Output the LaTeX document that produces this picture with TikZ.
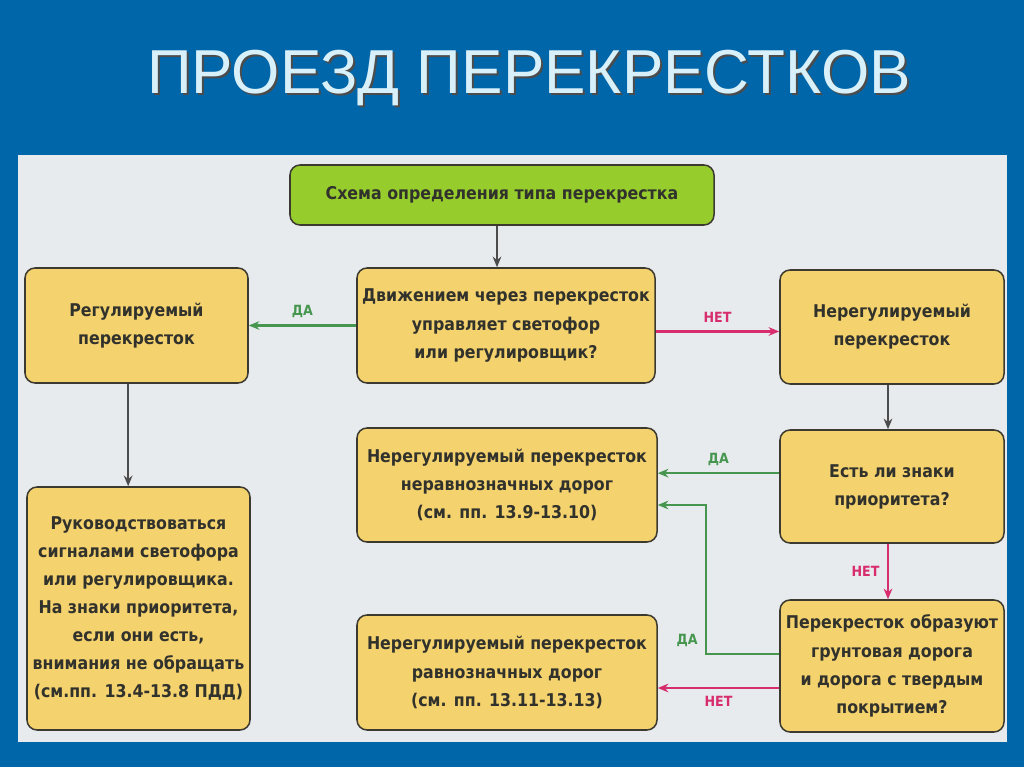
\documentclass[tikz,border=0pt]{standalone}
\usepackage{fontspec}
\setmainfont{DejaVu Sans Condensed}
\newfontfamily\titlefont{Liberation Sans}
\usetikzlibrary{arrows.meta,positioning}

\definecolor{slideblue}{RGB}{0,102,170}
\definecolor{panelgray}{RGB}{232,235,237}
\definecolor{boxfill}{RGB}{244,210,110}
\definecolor{startfill}{RGB}{150,205,45}
\definecolor{boxline}{RGB}{60,58,48}
\definecolor{boxtext}{RGB}{50,50,45}
\definecolor{yesgreen}{RGB}{70,150,80}
\definecolor{nopink}{RGB}{215,45,110}
\definecolor{titletext}{RGB}{215,240,250}

\begin{document}
\begin{tikzpicture}[
  x=0.03cm, y=-0.03cm,
  box/.style={draw=boxline, line width=1.3pt, rounded corners=3mm, align=center,
    text=boxtext, font=\bfseries\fontsize{15}{24}\selectfont, fill=#1},
  box/.default=boxfill,
  arrow/.style={-{Stealth[length=3.2mm,width=2.6mm]}, draw, line width=2pt},
  down/.style={arrow, black!70, line width=1.4pt},
  yes/.style={arrow, yesgreen},
  no/.style={arrow, nopink},
  lbl/.style={font=\bfseries\fontsize{12}{13}\selectfont},
]
% background and panel
\fill[slideblue] (0,0) rectangle (1024,767);
\fill[panelgray] (18,155) rectangle (1007,742);
\useasboundingbox (0,0) rectangle (1024,767);

% title
\node[text=black!70, font=\titlefont\fontsize{53}{60}\selectfont] at (531,80) {ПРОЕЗД ПЕРЕКРЕСТКОВ};
\node[text=titletext, font=\titlefont\fontsize{53}{60}\selectfont] (title) at (529,78) {ПРОЕЗД ПЕРЕКРЕСТКОВ};

% boxes
\node[box=startfill, minimum width=12.72cm, minimum height=1.8cm] (start) at (502,195) {Схема определения типа перекрестка};
\node[box, minimum width=8.94cm, minimum height=3.45cm] (q_ctrl) at (506,325.5) {Движением через перекресток\\управляет светофор\\или регулировщик?};
\node[box, minimum width=6.69cm, minimum height=3.45cm] (reg) at (136.5,325.5) {Регулируемый\\перекресток};
\node[box, minimum width=6.72cm, minimum height=3.42cm] (unreg) at (892,327) {Нерегулируемый\\перекресток};
\node[box, minimum width=6.69cm, minimum height=7.29cm] (reg_rule) at (138.5,608.5) {Руководствоваться\\сигналами светофора\\или регулировщика.\\На знаки приоритета,\\если они есть,\\внимания не обращать\\(см.пп. 13.4-13.8 ПДД)};
\node[box, minimum width=9cm, minimum height=3.42cm] (unequal) at (507,485) {Нерегулируемый перекресток\\неравнозначных дорог\\(см. пп. 13.9-13.10)};
\node[box, minimum width=6.72cm, minimum height=3.39cm] (q_sign) at (892,486.5) {Есть ли знаки\\приоритета?};
\node[box, minimum width=9cm, minimum height=3.45cm] (equal) at (507,672.5) {Нерегулируемый перекресток\\равнозначных дорог\\(см. пп. 13.11-13.13)};
\node[box, minimum width=6.72cm, minimum height=3.96cm] (q_ground) at (892,666) {Перекресток образуют\\грунтовая дорога\\и дорога с твердым\\покрытием?};

% connectors
\draw[down] ([xshift=-0.15cm]start.south) -- ([xshift=-0.15cm]start.south |- q_ctrl.north);
\draw[yes] (q_ctrl.west) -- (reg.east) node[midway, above=2pt, lbl] {ДА};
\draw[no] ([yshift=-0.18cm]q_ctrl.east) -- ([yshift=-0.18cm]q_ctrl.east -| unreg.west) node[midway, above=3pt, lbl] {НЕТ};
\draw[down] ([xshift=-0.25cm]reg.south) -- ([xshift=-0.25cm]reg.south |- reg_rule.north);
\draw[down] ([xshift=-0.12cm]unreg.south) -- ([xshift=-0.12cm]unreg.south |- q_sign.north);
\draw[yes] ([yshift=0.4cm]q_sign.west) -- ([yshift=0.4cm]q_sign.west -| unequal.east) node[midway, above=2pt, lbl] {ДА};
\draw[yes] ([yshift=0.36cm]q_ground.west) -- ++(-73,0) node[above left=2pt and 3pt, lbl] {ДА} |- ([yshift=-0.6cm]unequal.east);
\draw[no] ([xshift=-0.12cm]q_sign.south) -- ([xshift=-0.12cm]q_sign.south |- q_ground.north) node[midway, left=3pt, lbl] {НЕТ};
\draw[no] ([yshift=-0.66cm]q_ground.west) -- ([yshift=-0.66cm]q_ground.west -| equal.east) node[midway, below=3pt, lbl] {НЕТ};
\end{tikzpicture}
\end{document}
